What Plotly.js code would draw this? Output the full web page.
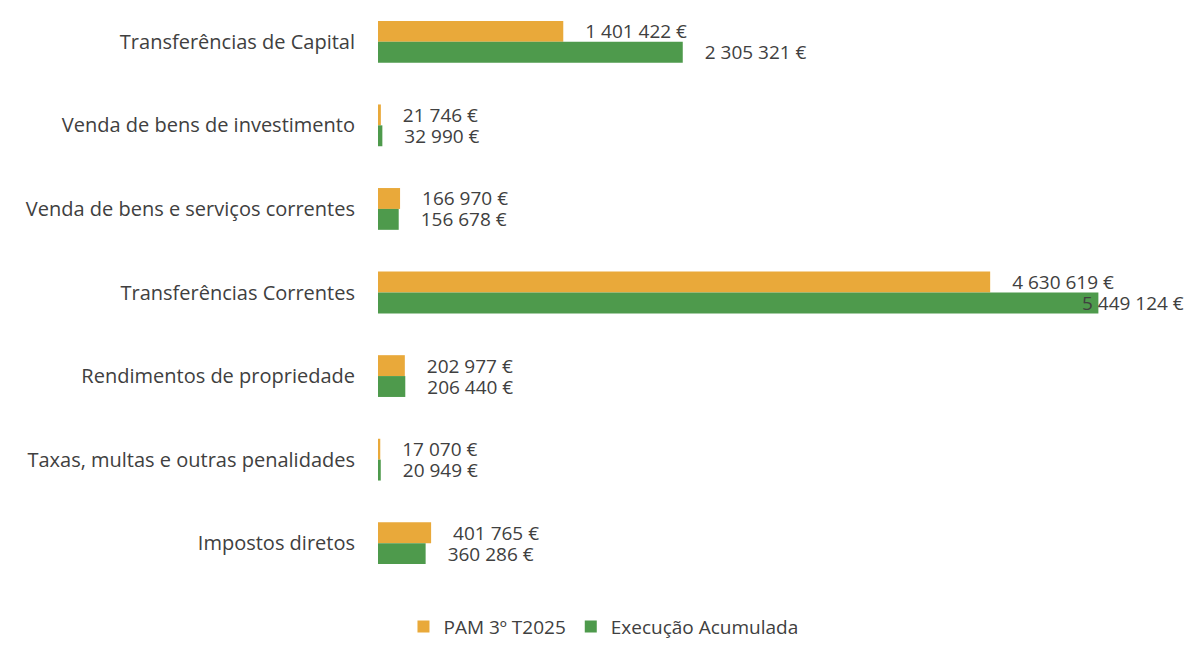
<!DOCTYPE html>
<html>
<head>
<meta charset="utf-8">
<script src="https://cdn.plot.ly/plotly-3.0.1.min.js"></script>
<style>html,body{margin:0;padding:0;background:#fff;}#chart{width:1195px;height:646px;}</style>
</head>
<body>
<div id="chart"></div>
<script>
const categories = [
  "Transferências de Capital",
  "Venda de bens de investimento",
  "Venda de bens e serviços correntes",
  "Transferências Correntes",
  "Rendimentos de propriedade",
  "Taxas, multas e outras penalidades",
  "Impostos diretos"
];
const pam = [1401422, 21746, 166970, 4630619, 202977, 17070, 401765];
const execucao = [2305321, 32990, 156678, 5449124, 206440, 20949, 360286];
const seriesNames = ["PAM 3º T2025", "Execução Acumulada"];

const FONT = "'Open Sans', Lato, sans-serif";
const TXT = "#404040";
const xMax = 6180000;
const FS = 20;
const FSN = 19;

function fmtNum(v) {
  return String(Math.round(v)).replace(/\B(?=(\d{3})+(?!\d))/g, " ") + " €";
}
// Values too near the right edge get their label pulled back over the bar end
const isLong = v => v / xMax > 0.85;

const series = [
  {name: seriesNames[0], values: pam, color: "#E9A93A", shift: 10.5},
  {name: seriesNames[1], values: execucao, color: "#4E9A4C", shift: -10.5}
];

const traces = series.map(s => ({
  type: "bar",
  orientation: "h",
  name: s.name,
  y: categories,
  x: s.values,
  marker: {color: s.color},
  texttemplate: s.values.map(v => "\u2002\u2002" + "%{x:,.0f} €"),
  textposition: s.values.map(v => isLong(v) ? "none" : "outside"),
  constraintext: "none",
  cliponaxis: false,
  textfont: {family: FONT, size: FSN, color: TXT},
  hoverinfo: "skip"
}));

const annotations = [];
series.forEach(s => s.values.forEach((v, i) => {
  if (isLong(v)) {
    annotations.push({
      x: v, y: categories[i], xref: "x", yref: "y",
      text: fmtNum(v), showarrow: false,
      xanchor: "left", yanchor: "middle", xshift: -18, yshift: s.shift,
      font: {family: FONT, size: FSN, color: TXT}
    });
  }
}));

const layout = {
  width: 1195, height: 646,
  paper_bgcolor: "#fff", plot_bgcolor: "#fff",
  separators: ", ",
  margin: {l: 378, r: 0, t: 0, b: 61},
  barmode: "group",
  bargap: 0.5,
  bargroupgap: 0,
  font: {family: FONT, color: TXT},
  xaxis: {range: [0, xMax], showgrid: false, zeroline: false, showticklabels: false, showline: false, ticks: ""},
  yaxis: {autorange: "reversed", showgrid: false, zeroline: false, showline: false, ticks: "",
          ticklabelstandoff: 22, tickfont: {family: FONT, size: FS, color: TXT}},
  annotations: annotations,
  showlegend: true,
  legend: {orientation: "h", xref: "container", yref: "container", x: 0.505, y: 0.03,
           xanchor: "center", yanchor: "middle", font: {family: FONT, size: FSN, color: TXT},
           itemwidth: 30, traceorder: "normal"}
};

Plotly.newPlot("chart", traces, layout, {displayModeBar: false, staticPlot: true});
</script>
</body>
</html>
